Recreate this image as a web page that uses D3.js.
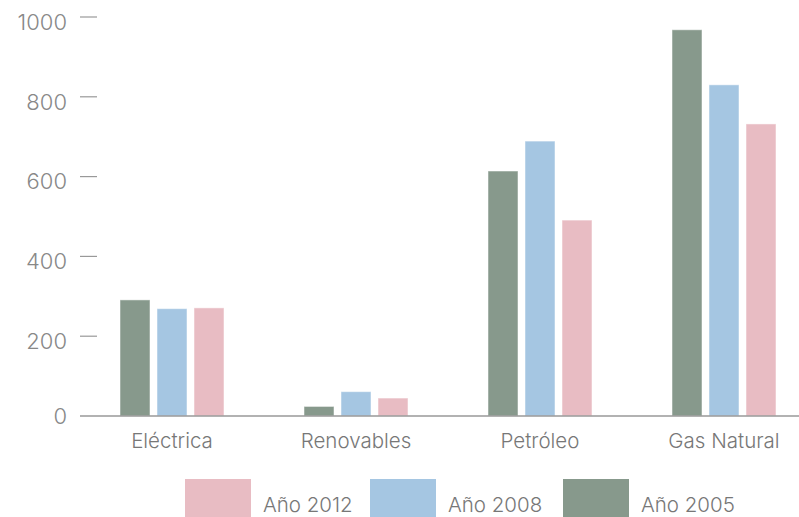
<!DOCTYPE html>
<html>
<head>
<meta charset="utf-8">
<script src="https://cdn.jsdelivr.net/npm/d3@7"></script>
<style>
  body { margin: 0; background: #fff; }
  text { font-family: Inter, "Noto Sans", sans-serif; }
</style>
</head>
<body>
<script>
const categories = ["Eléctrica", "Renovables", "Petróleo", "Gas Natural"];
const series = ["Año 2005", "Año 2008", "Año 2012"];
const v2005 = [291, 24, 614, 968];
const v2008 = [269, 61, 689, 830];
const v2012 = [271, 45, 491, 732];
const yTicks = [0, 200, 400, 600, 800, 1000];
const colors = ["#87998c", "#a5c6e2", "#e8bcc3"];

const width = 799;
const height = 517;
const values = [v2005, v2008, v2012];

const svg = d3.select("body").append("svg")
  .attr("width", width)
  .attr("height", height);

const y = d3.scaleLinear().domain([0, 1000]).range([416, 17]);
const x0 = d3.scaleBand().domain(categories).range([80, 816]);
const x1 = d3.scaleBand().domain(series).range([0, 104]).paddingInner(7 / 37);

// y ticks
const yg = svg.append("g");
yg.selectAll("line").data(yTicks.filter(d => d > 0)).enter().append("line")
  .attr("x1", 80).attr("x2", 97)
  .attr("y1", d => y(d)).attr("y2", d => y(d))
  .attr("stroke", "#999").attr("stroke-width", 1.2);
yg.selectAll("text").data(yTicks).enter().append("text")
  .attr("x", 67)
  .attr("y", d => y(d) + (d === 0 ? 0 : 5))
  .attr("dy", "0.35em")
  .attr("text-anchor", "end")
  .attr("fill", "#888")
  .attr("font-size", 22)
  .attr("font-weight", 300)
  .text(d => d);

// bars
const groups = svg.selectAll("g.grp").data(categories).enter().append("g")
  .attr("class", "grp")
  .attr("transform", d => `translate(${x0(d) + x0.bandwidth() / 2 - 52},0)`);
groups.selectAll("rect")
  .data((c, ci) => series.map((s, si) => ({ s, si, v: values[si][ci] })))
  .enter().append("rect")
  .attr("x", d => x1(d.s))
  .attr("y", d => y(d.v))
  .attr("width", x1.bandwidth())
  .attr("height", d => y(0) - y(d.v))
  .attr("fill", d => colors[d.si])
  .attr("stroke", "rgba(255,255,255,0.5)")
  .attr("stroke-width", 1);

// baseline
svg.append("line")
  .attr("x1", 80).attr("x2", 799)
  .attr("y1", y(0)).attr("y2", y(0))
  .attr("stroke", "#999").attr("stroke-width", 1.5);

// category labels
svg.selectAll("text.cat").data(categories).enter().append("text")
  .attr("class", "cat")
  .attr("x", d => x0(d) + x0.bandwidth() / 2)
  .attr("y", 448)
  .attr("text-anchor", "middle")
  .attr("fill", "#777")
  .attr("font-size", 20.5)
  .attr("font-weight", 300)
  .text(d => d);

// legend
const legendItems = [
  { label: series[2], color: colors[2], x: 185 },
  { label: series[1], color: colors[1], x: 370 },
  { label: series[0], color: colors[0], x: 563 }
];
const lg = svg.selectAll("g.leg").data(legendItems).enter().append("g")
  .attr("class", "leg")
  .attr("transform", d => `translate(${d.x},479)`);
lg.append("rect")
  .attr("width", 66).attr("height", 40)
  .attr("fill", d => d.color);
lg.append("text")
  .attr("x", 78).attr("y", 33)
  .attr("fill", "#777")
  .attr("font-size", 20.5)
  .attr("font-weight", 300)
  .text(d => d.label);
</script>
</body>
</html>
